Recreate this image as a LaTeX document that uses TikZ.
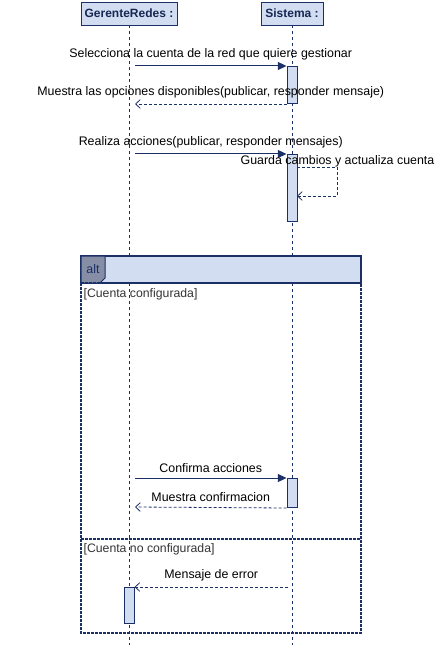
\documentclass[tikz,border=0pt]{standalone}
\usepackage{fontspec}
\setmainfont{Liberation Sans}
\usetikzlibrary{arrows.meta,positioning}
\definecolor{umlline}{RGB}{28,48,104}
\definecolor{umlfill}{RGB}{210,221,241}
\definecolor{umltab}{RGB}{134,142,166}

\begin{document}
\begin{tikzpicture}[x=0.75pt, y=-0.75pt,
  actor/.style={draw=umlline, fill=umlfill, font=\bfseries\fontsize{9}{11}\selectfont,
    text=umlline!80!black, inner sep=0pt, minimum height=17.25pt},
  life/.style={draw=umlline, line width=0.6pt, dash pattern=on 2.25pt off 2.25pt},
  act/.style={draw=umlline, fill=umlfill, line width=0.75pt, minimum width=7.5pt,
    inner sep=0pt, anchor=north},
  call/.style={draw=umlline, line width=0.75pt, -{Triangle[length=6.5pt,width=6pt]}},
  reply/.style={draw=umlline, line width=0.6pt, dash pattern=on 2.25pt off 1.5pt,
    -{Straight Barb[length=3.5pt,width=6.5pt]}},
  lbl/.style={font=\fontsize{9.3}{11}\selectfont, inner sep=1pt},
  guard/.style={font=\fontsize{9.2}{11}\selectfont, inner sep=1pt, anchor=north west,
    text=black!80},
  frame/.style={draw=umlline, line width=1pt, dash pattern=on 2pt off 1pt}
]
  \useasboundingbox (0,0) rectangle (442,645);

  % participantes
  \node[actor, minimum width=72pt] (ger) at (129,13.5) {GerenteRedes :};
  \node[actor, minimum width=46.5pt] (sis) at (292,13.5) {Sistema :};
  \coordinate (gerEnd) at (129,645);
  \coordinate (sisEnd) at (292,645);
  \draw[life] (ger.south) -- (gerEnd);
  \draw[life] (sis.south) -- (sisEnd);

  % activaciones
  \node[act, minimum height=27.75pt] (a1) at (292,66) {};
  \node[act, minimum height=50.25pt] (a2) at (292,154) {};

  % mensajes
  \coordinate (g1) at (135,66);
  \coordinate (g2) at (135,104);
  \coordinate (g3) at (135,154);
  \draw[call] (g1) -- (a1.north west)
    node[lbl, midway, above=3pt] {Selecciona la cuenta de la red que quiere gestionar};
  \draw[reply] (a1.south west) -- (g2)
    node[lbl, midway, above=3pt] {Muestra las opciones disponibles(publicar, responder mensaje)};
  \draw[call] (g3) -- (a2.north west)
    node[lbl, midway, above=3pt] {Realiza acciones(publicar, responder mensajes)};

  % mensaje propio
  \coordinate (s1) at (297,167);
  \coordinate (s2) at (337,167);
  \coordinate (s3) at (337,196);
  \coordinate (s4) at (297,196);
  \draw[reply] (s1) -- (s2) -- (s3) -- (s4);
  \node[lbl] (guarda) at (337.5,161) {Guarda cambios y actualiza cuenta};

  % fragmento alt
  \draw[frame] (81,283) -- (81,633) -- (361,633) -- (361,283);
  \draw[draw=umlline, fill=umlfill, line width=1pt] (81,256) rectangle (361,283);
  \draw[draw=umlline, fill=umltab, line width=0.75pt]
    (81,256) -- (105,256) -- (105,278) -- (100,283) -- (81,283) -- cycle;
  \node[lbl, text=umlline] (alt) at (93,269.5) {alt};
  \draw[frame] (81,283) -- (361,283);
  \draw[frame] (81,539) -- (361,539);
  \node[guard] (op1) at (82,287) {[Cuenta configurada]};
  \node[guard] (op2) at (82,542) {[Cuenta no configurada]};

  \node[act, minimum height=21.75pt] (a3) at (292,478) {};
  \node[act, minimum height=27pt] (a4) at (129,587) {};
  \coordinate (g4) at (135,478);
  \coordinate (g5) at (135,507);
  \coordinate (s5) at (288,587);
  \draw[call] (g4) -- (a3.north west)
    node[lbl, midway, above=3pt] {Confirma acciones};
  \draw[reply] (a3.south west) -- (g5)
    node[lbl, midway, above=3pt] {Muestra confirmacion};
  \draw[reply] (s5) -- (a4.north east)
    node[lbl, midway, above=3pt] {Mensaje de error};
\end{tikzpicture}
\end{document}
